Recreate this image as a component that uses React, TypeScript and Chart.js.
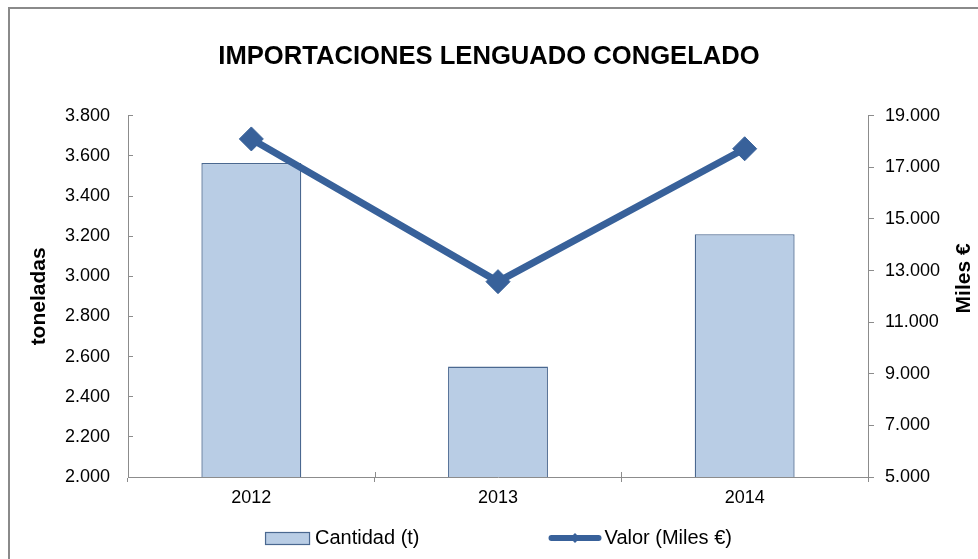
import React, { useEffect, useRef } from "react";
import { Chart, registerables } from "chart.js";

Chart.register(...registerables);

const chartTitle = "IMPORTACIONES LENGUADO CONGELADO";
const categories = ["2012", "2013", "2014"];
const cantidadLabel = "Cantidad (t)";
const valorLabel = "Valor (Miles €)";
const cantidad = [3565, 2550, 3210];
const valor = [18100, 12570, 17720];
const leftTitle = "toneladas";
const rightTitle = "Miles €";
const leftRange = { min: 2000, max: 3800, step: 200 };
const rightRange = { min: 5000, max: 19000, step: 2000 };

const FONT = "'Liberation Sans', Arial, sans-serif";
const BAR_FILL = "#B9CDE5";
const BAR_BORDER = "#4A6890";
const LINE_COLOR = "#38619A";
const AXIS_COLOR = "#8C8C8C";

function fmt(v: number): string {
  const s = Math.round(v).toString();
  return s.replace(/\B(?=(\d{3})+(?!\d))/g, ".");
}

const decorPlugin = {
  id: "decor",
  beforeDraw(chart: any) {
    const ctx = chart.ctx;
    ctx.save();
    ctx.fillStyle = "#ffffff";
    ctx.fillRect(0, 0, chart.width, chart.height);
    ctx.restore();
  },
  afterDraw(chart: any) {
    const ctx = chart.ctx;
    const area = chart.chartArea;
    ctx.save();
    // outer frame (runs off right and bottom)
    ctx.strokeStyle = "#8A8A8A";
    ctx.lineWidth = 2;
    ctx.strokeRect(9, 8, chart.width + 20, chart.height + 20);

    // upper half of x-axis cross ticks
    const xs = chart.scales.x;
    const n = categories.length;
    ctx.strokeStyle = AXIS_COLOR;
    ctx.lineWidth = 1;
    ctx.beginPath();
    for (let i = 0; i <= n; i++) {
      const x = Math.round(xs.left + (i * xs.width) / n) + 0.5;
      ctx.moveTo(x, area.bottom - 5);
      ctx.lineTo(x, area.bottom);
    }
    ctx.stroke();

    // right axis title, reading bottom-to-top
    ctx.fillStyle = "#000";
    ctx.font = `bold 21px ${FONT}`;
    ctx.textAlign = "center";
    ctx.textBaseline = "middle";
    ctx.translate(964, (area.top + area.bottom) / 2 - 18);
    ctx.rotate(-Math.PI / 2);
    ctx.fillText(rightTitle, 0, 0);
    ctx.restore();

    // legend
    ctx.save();
    ctx.font = `20px ${FONT}`;
    ctx.textBaseline = "middle";
    ctx.textAlign = "left";
    const w1 = ctx.measureText(cantidadLabel).width;
    const w2 = ctx.measureText(valorLabel).width;
    const gap = 130;
    const total = 44 + 6 + w1 + gap + 51 + 3 + w2;
    const cy = 538;
    let x = (area.left + area.right) / 2 - total / 2;
    ctx.fillStyle = BAR_FILL;
    ctx.fillRect(x, cy - 6, 44, 12);
    ctx.strokeStyle = BAR_BORDER;
    ctx.lineWidth = 1.2;
    ctx.strokeRect(x + 0.5, cy - 6 + 0.5, 44, 12);
    ctx.fillStyle = "#000";
    ctx.fillText(cantidadLabel, x + 50, cy);
    x = x + 50 + w1 + gap;
    ctx.strokeStyle = LINE_COLOR;
    ctx.lineWidth = 6;
    ctx.lineCap = "round";
    ctx.beginPath();
    ctx.moveTo(x + 2, cy);
    ctx.lineTo(x + 49, cy);
    ctx.stroke();
    ctx.fillStyle = LINE_COLOR;
    ctx.beginPath();
    const mx = x + 25.5;
    ctx.moveTo(mx, cy - 5);
    ctx.lineTo(mx + 5, cy);
    ctx.lineTo(mx, cy + 5);
    ctx.lineTo(mx - 5, cy);
    ctx.closePath();
    ctx.fill();
    ctx.fillStyle = "#000";
    ctx.fillText(valorLabel, x + 55, cy);
    ctx.restore();
  },
};

export default function App() {
  const ref = useRef<HTMLCanvasElement | null>(null);

  useEffect(() => {
    if (!ref.current) return;
    const chart = new Chart(ref.current, {
      type: "bar",
      data: {
        labels: categories,
        datasets: [
          {
            type: "line",
            label: valorLabel,
            data: valor,
            yAxisID: "y1",
            borderColor: LINE_COLOR,
            backgroundColor: LINE_COLOR,
            borderWidth: 7,
            pointStyle: "rectRot",
            pointRadius: 12,
            pointBorderWidth: 1,
            pointBackgroundColor: LINE_COLOR,
            pointBorderColor: LINE_COLOR,
            tension: 0,
            order: 0,
          } as any,
          {
            type: "bar",
            label: cantidadLabel,
            data: cantidad,
            yAxisID: "y",
            backgroundColor: BAR_FILL,
            borderColor: BAR_BORDER,
            borderWidth: 1.3,
            barPercentage: 0.405,
            categoryPercentage: 1,
            order: 1,
          } as any,
        ],
      },
      options: {
        responsive: false,
        animation: false,
        layout: { padding: { left: 0, right: 0, top: 0, bottom: 40 } },
        plugins: {
          legend: { display: false },
          tooltip: { enabled: false },
          title: {
            display: true,
            text: chartTitle,
            color: "#000",
            font: { family: FONT, size: 25.6, weight: "bold" },
            padding: { top: 42, bottom: 43 },
          },
        },
        scales: {
          x: {
            offset: true,
            grid: {
              display: true,
              offset: true,
              drawOnChartArea: false,
              drawTicks: true,
              tickLength: 5,
              color: AXIS_COLOR,
            },
            border: { display: true, color: AXIS_COLOR, width: 1 },
            ticks: {
              color: "#000",
              font: { family: FONT, size: 18 },
              padding: 5,
            },
            afterFit(scale: any) {
              scale.height = 42;
            },
          },
          y: {
            position: "left",
            min: leftRange.min,
            max: leftRange.max,
            grid: {
              drawOnChartArea: false,
              drawTicks: true,
              tickLength: -5,
              color: AXIS_COLOR,
            },
            border: { display: true, color: AXIS_COLOR, width: 1 },
            ticks: {
              stepSize: leftRange.step,
              color: "#000",
              font: { family: FONT, size: 18 },
              padding: 23,
              callback: (v: any) => fmt(Number(v)),
            },
            title: {
              display: true,
              text: leftTitle,
              color: "#000",
              font: { family: FONT, size: 21, weight: "bold" },
              padding: { top: 27, bottom: 0 },
            },
            afterFit(scale: any) {
              scale.width = 128;
            },
          },
          y1: {
            position: "right",
            min: rightRange.min,
            max: rightRange.max,
            grid: {
              drawOnChartArea: false,
              drawTicks: true,
              tickLength: 6,
              color: AXIS_COLOR,
            },
            border: { display: true, color: AXIS_COLOR, width: 1 },
            ticks: {
              stepSize: rightRange.step,
              color: "#000",
              font: { family: FONT, size: 18 },
              padding: 11,
              callback: (v: any) => fmt(Number(v)),
            },
            afterFit(scale: any) {
              scale.width = 110;
            },
          },
        },
      },
      plugins: [decorPlugin],
    });
    return () => chart.destroy();
  }, []);

  return (
    <canvas
      ref={ref}
      width={978}
      height={559}
      style={{ position: "absolute", left: 0, top: 0, display: "block" }}
    />
  );
}
